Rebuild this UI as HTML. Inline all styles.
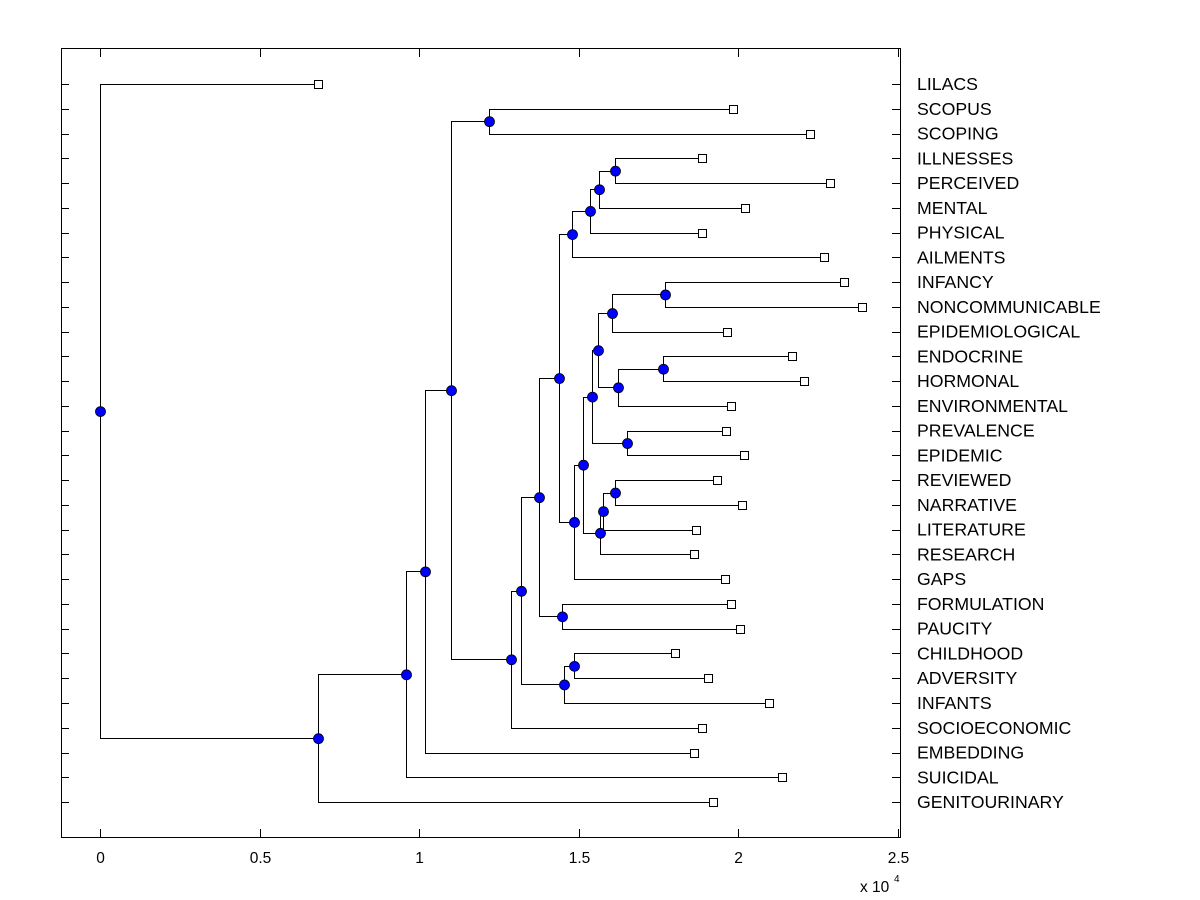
<!DOCTYPE html>
<html><head><meta charset="utf-8"><style>
html,body{margin:0;padding:0;background:#fff;}
svg{display:block;font-family:"Liberation Sans",Arial,sans-serif;}
</style></head><body>
<svg id="s" width="1200" height="900" xmlns="http://www.w3.org/2000/svg">
<rect x="0" y="0" width="1200" height="900" fill="#fff"/>
<rect x="61.5" y="48.5" width="839" height="789" fill="none" stroke="#000" stroke-width="1"/>
<g id="g"></g>
</svg>
<script>
const g=document.getElementById('g');
const NS='http://www.w3.org/2000/svg';
function el(t,a,txt){const e=document.createElementNS(NS,t);for(const k in a)e.setAttribute(k,a[k]);if(txt!==undefined)e.textContent=txt;g.appendChild(e);return e;}
const names=["LILACS","SCOPUS","SCOPING","ILLNESSES","PERCEIVED","MENTAL","PHYSICAL","AILMENTS","INFANCY","NONCOMMUNICABLE","EPIDEMIOLOGICAL","ENDOCRINE","HORMONAL","ENVIRONMENTAL","PREVALENCE","EPIDEMIC","REVIEWED","NARRATIVE","LITERATURE","RESEARCH","GAPS","FORMULATION","PAUCITY","CHILDHOOD","ADVERSITY","INFANTS","SOCIOECONOMIC","EMBEDDING","SUICIDAL","GENITOURINARY"];
const lx=[318,733,810,702,830,745,702,824,844,862,727,792,804,731,726,744,717,742,696,694,725,731,740,675,708,769,702,694,782,713];
const ry=i=>84+i*24.76;
for(let i=0;i<30;i++){const y=Math.round(ry(i))+0.5;
 el('line',{x1:61,y1:y,x2:69,y2:y,stroke:'#000'});
 el('line',{x1:892,y1:y,x2:900,y2:y,stroke:'#000'});
 el('text',{x:917,y:ry(i)+6,'font-size':17.7},names[i]);}
[0,0.5,1,1.5,2,2.5].forEach(v=>{const x=Math.round(100+v*319.2)+0.5;
 el('line',{x1:x,y1:49,x2:x,y2:57,stroke:'#000'});
 el('line',{x1:x,y1:829,x2:x,y2:837,stroke:'#000'});
 el('text',{x:x,y:863,'font-size':15.5,'text-anchor':'middle'},String(v));});
el('text',{x:860,y:892,'font-size':15.5},'x 10');
el('text',{x:894,y:882,'font-size':10},'4');
const N={
R:[100,[0,'N1']],N1:[318,['N2',29]],N2:[406,['N3',28]],N3:[425,['N4',27]],N4:[451,['N5','N6']],
N5:[489,[1,2]],N6:[511,['N7',26]],N7:[521,['N8','N9']],N9:[564,['N10',25]],N10:[574,[23,24]],
N8:[539,['N11','N12']],N12:[562,[21,22]],N11:[559,['N13','N14']],N13:[572,['N15',7]],N15:[590,['N16',6]],
N16:[599,['N17',5]],N17:[615,[3,4]],N14:[574,['N18',20]],N18:[583,['N19','N20']],N19:[592,['N21','N22']],
N21:[598,['N23','N24']],N23:[612,['N25',10]],N25:[665,[8,9]],N24:[618,['N26',13]],N26:[663,[11,12]],
N22:[627,[14,15]],N20:[600,['N27',19]],N27:[603,['N28',18]],N28:[615,[16,17]]};
const dots=[],boxes=[];
function draw(n){const [x,ch]=N[n];const ys=[];
 ch.forEach(c=>{let cx,cy;
  if(typeof c==='number'){cx=lx[c];cy=ry(c);boxes.push([cx,cy]);}
  else{[cx,cy]=draw(c);}
  ys.push(cy);
  el('line',{x1:x,y1:Math.round(cy)+0.5,x2:cx,y2:Math.round(cy)+0.5,stroke:'#000'});});
 el('line',{x1:x+0.5,y1:Math.round(ys[0])+0.5,x2:x+0.5,y2:Math.round(ys[1])+0.5,stroke:'#000'});
 const y=(ys[0]+ys[1])/2;dots.push([x,y]);return [x,y];}
draw('R');
boxes.forEach(([x,y])=>el('rect',{x:x-3.5,y:Math.round(y)-3.5,width:8,height:8,fill:'#fff',stroke:'#000'}));
dots.forEach(([x,y])=>el('circle',{cx:x+0.5,cy:y+0.5,r:5,fill:'#0000ff',stroke:'#000','stroke-width':0.8}));
</script>
</body></html>
